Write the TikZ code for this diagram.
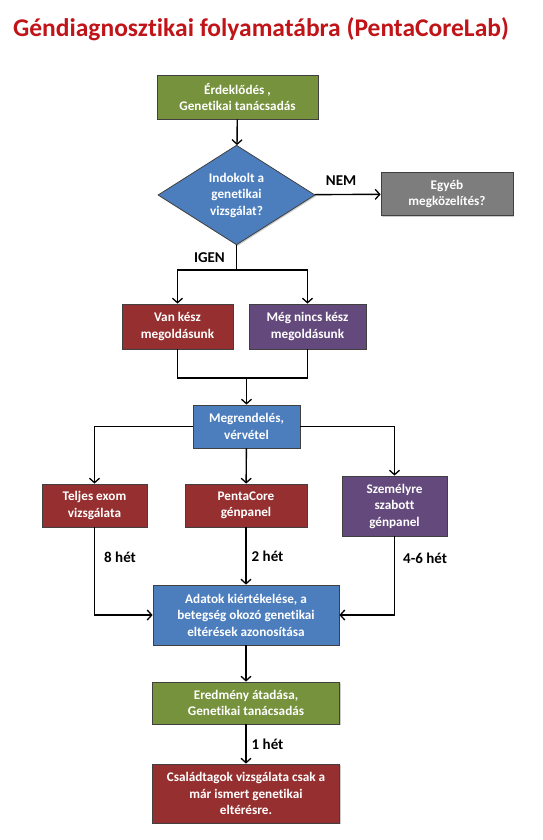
\documentclass[tikz,border=0pt]{standalone}
\usepackage{fontspec}
\setmainfont{Carlito}[Ligatures=NoCommon]
\usetikzlibrary{positioning,calc,shapes.geometric,arrows.meta,shadows}
\definecolor{GenGreen}{RGB}{118,146,60}
\definecolor{GenRed}{RGB}{150,48,48}
\definecolor{GenPurple}{RGB}{100,74,124}
\definecolor{GenBlue}{RGB}{76,126,190}
\definecolor{GenGray}{RGB}{125,125,125}
\definecolor{TitleRed}{RGB}{192,20,24}
\tikzset{
  box/.style={rectangle,draw=black!75,line width=0.8pt,text=white,align=center,
    font=\bfseries\fontsize{13.2}{16.5}\selectfont,inner sep=2pt,
    drop shadow={fill=black!45,opacity=0.45,shadow xshift=1.2pt,shadow yshift=-1.2pt}},
  greenbox/.style={box,fill=GenGreen},
  redbox/.style={box,fill=GenRed},
  purplebox/.style={box,fill=GenPurple},
  bluebox/.style={box,fill=GenBlue},
  graybox/.style={box,fill=GenGray},
  decision/.style={box,diamond,fill=GenBlue,inner sep=0pt},
  flow/.style={draw=black,line width=1.4pt},
  arr/.style={flow,-{Straight Barb[length=4.5pt,width=10pt,line width=1.3pt]}},
  lbl/.style={font=\bfseries\fontsize{15}{18}\selectfont,text=black,inner sep=0pt},
}
\begin{document}
\begin{tikzpicture}[x=1pt,y=-1pt]
  \useasboundingbox (0,0) rectangle (542,840);
  \node[font=\bfseries\fontsize{25.5}{30}\selectfont,text=TitleRed] (title) at (261,29)
    {Géndiagnosztikai folyamatábra (PentaCoreLab)};
  % first steps
  \node[greenbox,minimum width=161pt,minimum height=44pt] (start) at (237.5,97)
    {Érdeklődés ,\\Genetikai tanácsadás};
  \node[decision,minimum width=157pt,minimum height=95pt] (dia) at (236.5,195)
    {Indokolt a\\genetikai\\vizsgálat?};
  \node[graybox,minimum width=132pt,minimum height=43pt] (other) at (447,194)
    {Egyéb\\megközelítés?};
  \node[redbox,minimum width=111pt,minimum height=45pt] (van) at (177.5,326.5)
    {Van kész\\megoldásunk};
  \node[purplebox,minimum width=117pt,minimum height=45pt] (meg) at (307.5,326.5)
    {Még nincs kész\\megoldásunk};
  \node[bluebox,minimum width=107pt,minimum height=43pt] (order) at (246.5,426.5)
    {Megrendelés,\\vérvétel};
  % tests
  \node[redbox,minimum width=105pt,minimum height=43pt] (exom) at (94.5,505.5)
    {Teljes exom\\vizsgálata};
  \node[redbox,minimum width=122pt,minimum height=43pt] (panel) at (246,505.5)
    {PentaCore\\génpanel};
  \node[purplebox,minimum width=105pt,minimum height=60pt] (custom) at (394.5,506)
    {Személyre\\szabott\\génpanel};
  \node[bluebox,minimum width=186pt,minimum height=60pt] (eval) at (246,615)
    {Adatok kiértékelése, a\\betegség okozó genetikai\\eltérések azonosítása};
  \node[greenbox,minimum width=187pt,minimum height=42pt] (result) at (246,703)
    {Eredmény átadása,\\Genetikai tanácsadás};
  \node[redbox,minimum width=187pt,minimum height=59pt] (family) at (246,793.5)
    {Családtagok vizsgálata csak a\\már ismert genetikai\\eltérésre.};
  \coordinate (igen) at (236.5,270);
  \coordinate (join) at (246.5,378);

  \draw[arr] (start) -- (dia);
  \draw[arr] (dia) -- node[lbl,above=8pt,pos=0.4] (nem) {NEM} (other);
  \draw[flow] (dia) -- node[lbl,left=11pt,pos=0.5] (yes) {IGEN} (igen);
  \draw[arr] (igen) -| (van);
  \draw[arr] (igen) -| (meg);
  \draw[flow] (van) |- (join);
  \draw[flow] (meg) |- (join);
  \draw[arr] (join) -- (order);
  \draw[arr] (order.west) -| (exom);
  \draw[arr] (order) -- (panel);
  \draw[arr] (order.east) -| (custom);
  \draw[arr] (exom) |- node[lbl,right=9pt,pos=0.17] (w8) {8 hét} (eval);
  \draw[arr] (panel) -- node[lbl,right=5pt] (w2) {2 hét} (eval);
  \draw[arr] (custom) |- node[lbl,right=8pt,pos=0.14] (w46) {4-6 hét} (eval);
  \draw[arr] (eval) -- (result);
  \draw[arr] (result) -- node[lbl,right=5pt] (w1) {1 hét} (family);
\end{tikzpicture}
\end{document}
